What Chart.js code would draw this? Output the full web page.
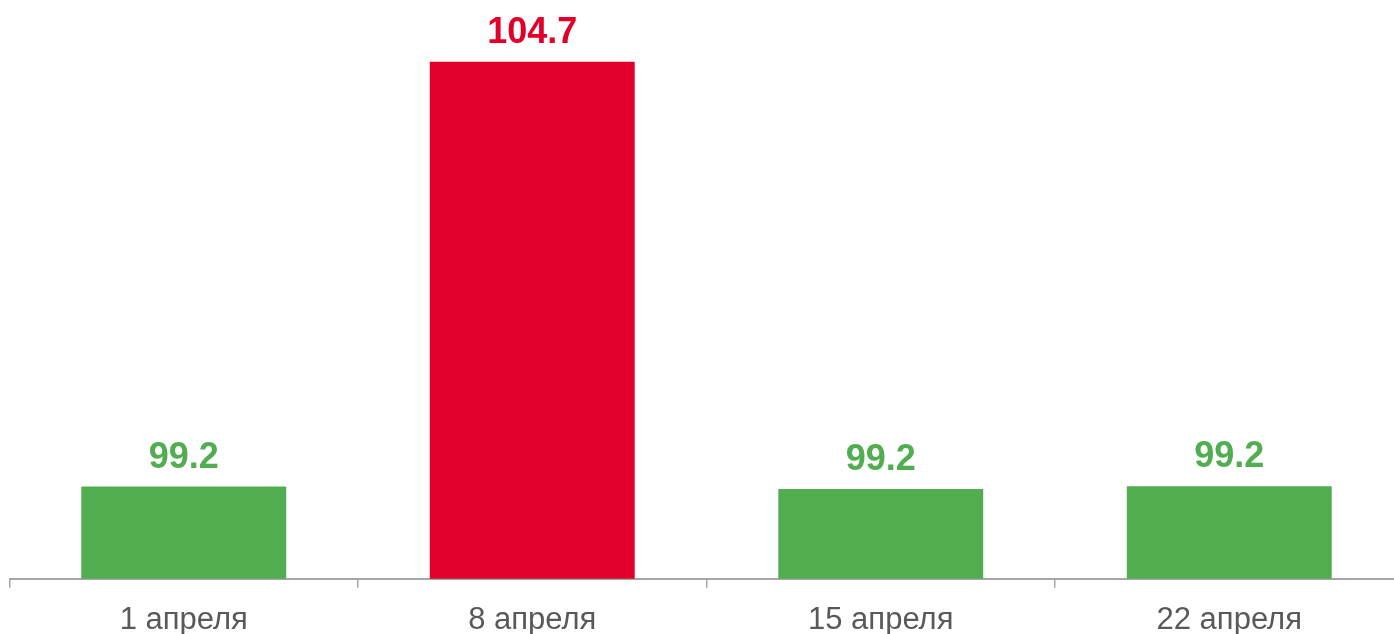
<!DOCTYPE html>
<html>
<head>
<meta charset="utf-8">
<script src="https://cdn.jsdelivr.net/npm/chart.js@4.4.1/dist/chart.umd.min.js"></script>
<style>
  html, body { margin: 0; padding: 0; background: #fff; overflow: hidden; }
  #wrap { width: 1394px; height: 634px; overflow: hidden; }
</style>
</head>
<body>
<div id="wrap"><canvas id="weekChart" width="1412" height="653"></canvas></div>
<script>
  // Data
  var weeks = ['1 апреля', '8 апреля', '15 апреля', '22 апреля'];
  var values = [99.195, 104.7, 99.165, 99.2];
  var barColors = ['#50AE51', '#E2002A', '#50AE51', '#50AE51'];

  // value labels above the bars
  var valueLabels = {
    id: 'valueLabels',
    afterDatasetsDraw: function (chart) {
      var ctx = chart.ctx;
      var meta = chart.getDatasetMeta(0);
      ctx.save();
      ctx.font = 'bold 36px "Liberation Sans", Arial, sans-serif';
      ctx.textAlign = 'center';
      ctx.textBaseline = 'alphabetic';
      meta.data.forEach(function (bar, i) {
        ctx.fillStyle = barColors[i];
        ctx.fillText(values[i].toFixed(1), bar.x, bar.y - 19);
      });
      ctx.restore();
    }
  };

  var ctx1 = document.getElementById('weekChart').getContext('2d');
  var weekChart = new Chart(ctx1, {
    type: 'bar',
    data: {
      labels: weeks,
      datasets: [{
        data: values,
        backgroundColor: barColors,
        borderWidth: 0,
        categoryPercentage: 1,
        barPercentage: 0.588
      }]
    },
    options: {
      responsive: false,
      animation: false,
      layout: { padding: { top: 38.5, left: 9.5, right: 8.5, bottom: 0 } },
      plugins: {
        legend: { display: false },
        tooltip: { enabled: false }
      },
      scales: {
        x: {
          grid: {
            drawOnChartArea: false,
            drawTicks: true,
            tickLength: 9,
            tickColor: '#A6A6A6',
            lineWidth: 1.5
          },
          border: { color: '#A6A6A6', width: 2 },
          ticks: {
            color: '#595959',
            padding: 14,
            font: { family: '"Liberation Sans", Arial, sans-serif', size: 31 }
          }
        },
        y: {
          display: false,
          min: 98,
          max: 105
        }
      }
    },
    plugins: [valueLabels]
  });
</script>
</body>
</html>
